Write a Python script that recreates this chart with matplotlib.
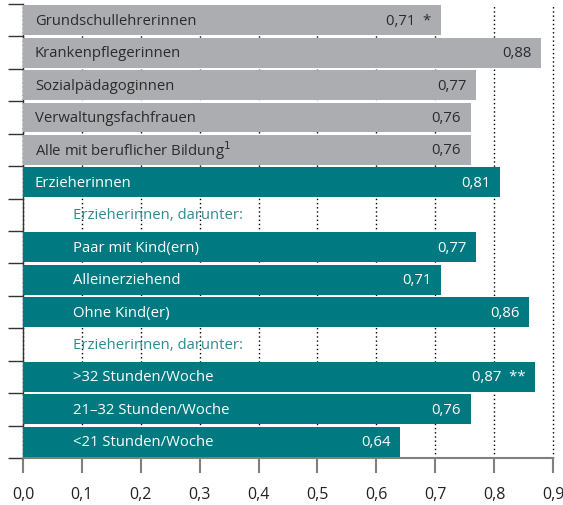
import matplotlib
matplotlib.use("Agg")
import matplotlib.pyplot as plt
import numpy as np

GRAY_HEX = "#acadb1"
TEAL_HEX = "#007a80"
TEAL_TEXT_HEX = "#2e8c91"
FONT_FAMILY = ["Open Sans", "DejaVu Sans"]

# rows top to bottom; None value = heading row without bar
labels = [
    "Grundschullehrerinnen",
    "Krankenpflegerinnen",
    "Sozialpädagoginnen",
    "Verwaltungsfachfrauen",
    "Alle mit beruflicher Bildung$^{1}$",
    "Erzieherinnen",
    "Erzieherinnen, darunter:",
    "Paar mit Kind(ern)",
    "Alleinerziehend",
    "Ohne Kind(er)",
    "Erzieherinnen, darunter:",
    ">32 Stunden/Woche",
    "21–32 Stunden/Woche",
    "<21 Stunden/Woche",
]
values = [0.71, 0.88, 0.77, 0.76, 0.76, 0.81, None, 0.77, 0.71, 0.86, None, 0.87, 0.76, 0.64]
value_text = ["0,71  *", "0,88", "0,77", "0,76", "0,76", "0,81", "", "0,77", "0,71", "0,86", "",
              "0,87  **", "0,76", "0,64"]
group = ["ref", "ref", "ref", "ref", "ref", "main", "head", "sub", "sub", "sub", "head",
         "sub", "sub", "sub"]
x_ticks = [0.0, 0.1, 0.2, 0.3, 0.4, 0.5, 0.6, 0.7, 0.8, 0.9]

fig = plt.figure(figsize=(5.63, 5.06), dpi=100)
ax = fig.add_axes([23 / 563, 47 / 506, 530 / 563, 454 / 506])

y = np.arange(len(labels))
for i, (lab, val, txt, g) in enumerate(zip(labels, values, value_text, group)):
    if g == "head":
        ax.text(0.085, y[i], lab, ha="left", va="center", fontsize=10.7,
                color=TEAL_TEXT_HEX, family=FONT_FAMILY)
        continue
    color = GRAY_HEX if g == "ref" else TEAL_HEX
    tcolor = "#2b2b2b" if g == "ref" else "white"
    ax.barh(y[i], val, height=0.92, color=color, zorder=3)
    x_lab = 0.02 if g in ("ref", "main") else 0.085
    ax.text(x_lab, y[i], lab, ha="left", va="center", fontsize=10.7,
            color=tcolor, family=FONT_FAMILY, zorder=4)
    ax.text(val - 0.016, y[i], txt, ha="right", va="center", fontsize=10.7,
            color=tcolor, family=FONT_FAMILY, zorder=4)

ax.set_xlim(0, 0.9)
ax.set_ylim(len(labels) - 0.5, -0.5)

ax.set_xticks(x_ticks)
ax.set_xticklabels([f"{v:.1f}".replace(".", ",") for v in x_ticks],
                   fontsize=11.5, family=FONT_FAMILY, color="#222222")
ax.tick_params(axis="x", direction="out", length=11, width=1.5, color="#808080", pad=9)

ax.set_yticks(np.arange(len(labels) + 1) - 0.5)
ax.set_yticklabels([])
ax.tick_params(axis="y", direction="out", length=11, width=1, color="#333333")

ax.grid(axis="x", linestyle=(0, (1, 2)), color="black", linewidth=1, zorder=0)
ax.set_axisbelow(True)
for gl in ax.get_xgridlines():
    gl.set_clip_on(False)

for s in ("top", "right"):
    ax.spines[s].set_visible(False)
ax.spines["left"].set_color("#333333")
ax.spines["left"].set_linewidth(1)
ax.spines["bottom"].set_color("#808080")
ax.spines["bottom"].set_linewidth(1.5)

fig.savefig("out.png", dpi=100, facecolor="white")
